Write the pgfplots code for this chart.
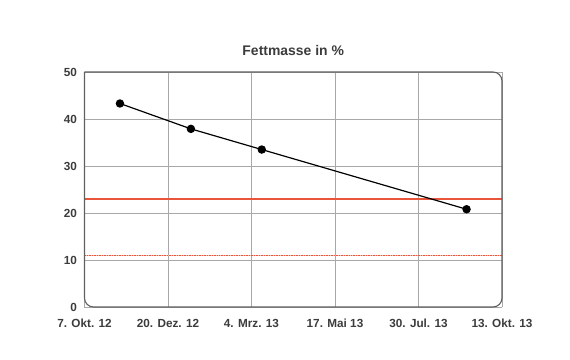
\documentclass[border=0pt]{standalone}
\usepackage{pgfplots}
\pgfplotsset{compat=1.18}
\usepackage{fontspec}
\setmainfont{Liberation Sans}
\definecolor{gridgray}{HTML}{A8A8A8}
\definecolor{framegray}{HTML}{606060}
\definecolor{lblgray}{HTML}{3C3C3C}
\definecolor{refred}{HTML}{E8553A}
\definecolor{lightred}{HTML}{F6B8A8}
\begin{document}
\begin{tikzpicture}
\begin{axis}[
  name=ax,
  scale only axis,
  width=417.5bp, height=235bp,
  xmin=0, xmax=370, ymin=0, ymax=50,
  xtick={0,74,148,222,296,370},
  xticklabels={7. Okt. 12, 20. Dez. 12, 4. Mrz. 13, 17. Mai 13, 30. Jul. 13, 13. Okt. 13},
  ytick={0,10,20,30,40,50},
  axis line style={draw=none},
  major tick length=0pt,
  grid=major,
  major grid style={gridgray, line width=0.8pt},
  clip=false,
  /pgf/number format/assume math mode=true,
  ticklabel style={font=\fontsize{11.8}{13}\selectfont\bfseries, text=lblgray},
  xticklabel style={anchor=base, yshift=-20bp},
  yticklabel style={anchor=east, xshift=-4bp},
  title={Fettmasse in \%},
  title style={font=\fontsize{14}{16}\selectfont\bfseries, text=lblgray, at={(0.5,1)}, anchor=base, yshift=11bp},
]
\addplot[color=refred, line width=1.8pt, forget plot] coordinates {(0,23) (370,23)};
\addplot[color=lightred, line width=1.6pt, forget plot] coordinates {(0,11) (370,11)};
\addplot[color=refred, line width=0.9pt, dash pattern=on 1.5pt off 1pt, forget plot] coordinates {(0,11) (370,11)};
\addplot[black, line width=1.2pt, mark=*, mark size=3.6pt] coordinates {
  (31.4,43.3) (94.3,37.9) (157.1,33.5) (338.6,20.8)
};
\draw[framegray, line width=1.1pt, rounded corners=9bp]
  (rel axis cs:0,1) -- (rel axis cs:0,0) -- (rel axis cs:1,0) -- (rel axis cs:1,1) -- (rel axis cs:0,1);
\end{axis}
\path ([xshift=-84.5bp,yshift=-53bp]ax.south west) rectangle ([xshift=68bp,yshift=72bp]ax.north east);
\end{tikzpicture}
\end{document}
